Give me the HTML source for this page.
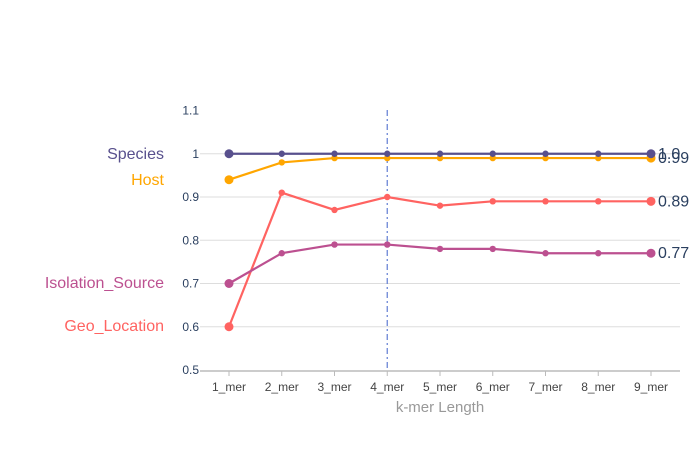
<!DOCTYPE html>
<html><head><meta charset="utf-8"><style>
body{margin:0;background:#fff;}
svg{display:block;font-family:"Liberation Sans",sans-serif;}
</style></head><body>
<svg id="chart" width="700" height="450"></svg>
<script>
const categories=["1_mer","2_mer","3_mer","4_mer","5_mer","6_mer","7_mer","8_mer","9_mer"];
const speciesVals=[1.0,1.0,1.0,1.0,1.0,1.0,1.0,1.0,1.0];
const hostVals=[0.94,0.98,0.99,0.99,0.99,0.99,0.99,0.99,0.99];
const geoVals=[0.60,0.91,0.87,0.90,0.88,0.89,0.89,0.89,0.89];
const isoVals=[0.70,0.77,0.79,0.79,0.78,0.78,0.77,0.77,0.77];
const yTicks=[0.5,0.6,0.7,0.8,0.9,1.0,1.1];
const yTickLabels=["0.5","0.6","0.7","0.8","0.9","1","1.1"];
const seriesNames=["Species","Host","Isolation_Source","Geo_Location"];
const endLabels=["1.0","0.99","0.77","0.89"];

const NS="http://www.w3.org/2000/svg";
const svg=document.getElementById('chart');
function xs(i){return 229+i*52.75;}
function ys(v){return 370-(v-0.5)*432.5;}
function mk(tag,attrs,parent){const e=document.createElementNS(NS,tag);for(const k in attrs)e.setAttribute(k,attrs[k]);(parent||svg).appendChild(e);return e;}

yTicks.forEach((t,i)=>{
  if(i>0 && i<yTicks.length-1){const g=mk('line',{x1:200,x2:680,y1:ys(t),y2:ys(t),stroke:'#ddd','stroke-width':1});
  
  }
  const tx=mk('text',{x:199,y:ys(t)+4,'text-anchor':'end','font-size':12,fill:'#2a3f5f'});
  tx.textContent=yTickLabels[i];
  
  
});
const ax=mk('line',{x1:200,x2:680,y1:371,y2:371,stroke:'#bbb','stroke-width':1.5});


categories.forEach((c,i)=>{
  const tk=mk('line',{x1:xs(i),x2:xs(i),y1:371,y2:376,stroke:'#bbb'});
  
  
  const t=mk('text',{x:xs(i),y:391,'text-anchor':'middle','font-size':12,fill:'#444'});
  t.textContent=c;
  
  
});
const xt=mk('text',{x:440,y:412,'text-anchor':'middle','font-size':15,fill:'#999'});
xt.textContent='k-mer Length';



const vl=mk('line',{x1:xs(3),x2:xs(3),y1:110,y2:371,stroke:'#6b86d6','stroke-width':1.3,'stroke-dasharray':'6,3,2,3'});



const series=[speciesVals,hostVals,isoVals,geoVals];
const colors=['#58508d','#ffa600','#bc5090','#ff6361'];
const labelY=[154,180,283,326];
const drawOrder=[3,2,1,0];
drawOrder.forEach(s=>{
  const vals=series[s];
  const pts=vals.map((v,i)=>xs(i)+','+ys(v)).join(' ');
  const pl=mk('polyline',{points:pts,fill:'none',stroke:colors[s],'stroke-width':2.2});
  
  
  vals.forEach((v,i)=>{
    const r=(i==0||i==vals.length-1)?4.5:3.2;
    const c=mk('circle',{cx:xs(i),cy:ys(v),r:r,fill:colors[s]});
    
    
  });
  const el=mk('text',{x:xs(vals.length-1)+7,y:ys(vals[vals.length-1])+5,'font-size':16,fill:'#2a3f5f'});
  el.textContent=endLabels[s];
  
  
  const nl=mk('text',{x:164,y:labelY[s]+5,'text-anchor':'end','font-size':16,fill:colors[s]});
  nl.textContent=seriesNames[s];
  
  
});
</script>
</body></html>
